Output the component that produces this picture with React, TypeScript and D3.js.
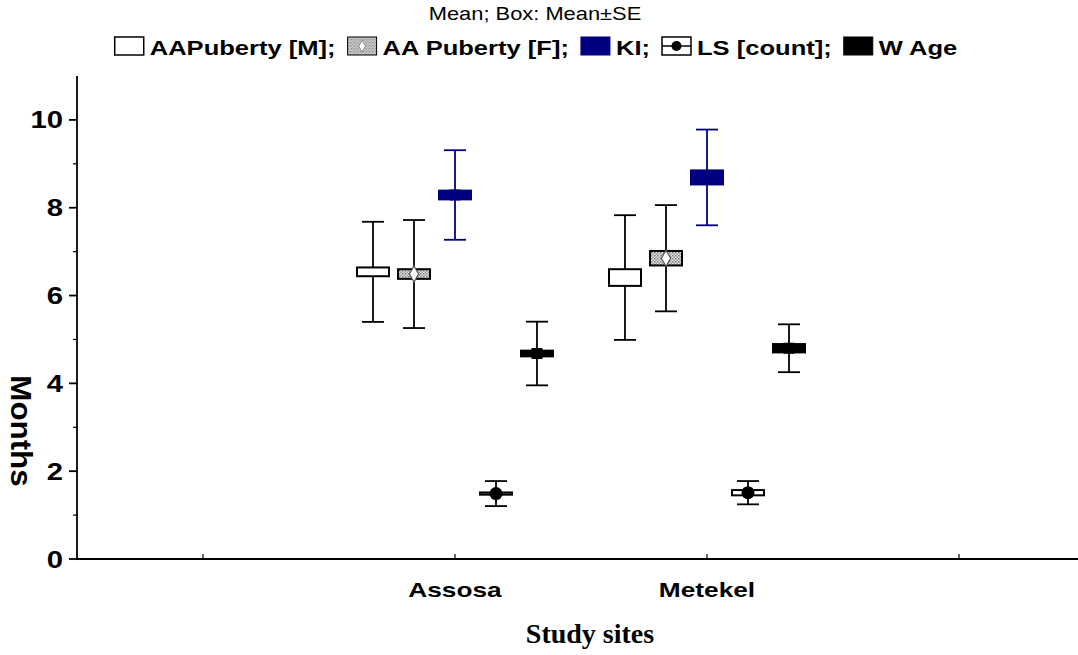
import * as d3 from "d3";
import { useEffect, useRef } from "react";

// study sites on the x axis
const sites = ["Assosa", "Metekel"];
const seriesNames = ["AAPuberty [M]", "AA Puberty [F]", "KI", "LS [count]", "W  Age"];

// one row per series, values for [Assosa, Metekel]
const means = [
  [6.54, 6.41],
  [6.49, 6.85],
  [8.29, 8.69],
  [1.49, 1.51],
  [4.68, 4.8],
];
const stdErrors = [
  [0.1, 0.19],
  [0.11, 0.165],
  [0.1, 0.16],
  [0.025, 0.06],
  [0.065, 0.095],
];
const whiskers = [
  [1.14, 1.42],
  [1.23, 1.21],
  [1.02, 1.09],
  [0.285, 0.265],
  [0.725, 0.545],
];
const yTicks = [0, 2, 4, 6, 8, 10];
const yMinorTicks = [1, 3, 5, 7, 9];

const NAVY = "#000080";
const styles = [
  { fill: "#fff", stroke: "#000", marker: "none" },
  { fill: "url(#hatch)", stroke: "#000", marker: "diamond" },
  { fill: NAVY, stroke: NAVY, marker: "square" },
  { fill: "#fff", stroke: "#000", marker: "circle" },
  { fill: "#000", stroke: "#000", marker: "square" },
];

const SANS = "'Liberation Sans', Arial, sans-serif";

export default function App() {
  const ref = useRef<SVGSVGElement | null>(null);

  useEffect(() => {
    const width = 1078, height = 655;
    const svg = d3.select(ref.current);
    svg.selectAll("*").remove();
    svg.attr("width", width).attr("height", height);

    const defs = svg.append("defs");
    const pat = defs.append("pattern").attr("id", "hatch")
      .attr("width", 3).attr("height", 3).attr("patternUnits", "userSpaceOnUse");
    pat.append("rect").attr("width", 3).attr("height", 3).attr("fill", "#e6e6e6");
    pat.append("rect").attr("width", 1.5).attr("height", 1.5).attr("fill", "#777");
    pat.append("rect").attr("x", 1.5).attr("y", 1.5).attr("width", 1.5).attr("height", 1.5).attr("fill", "#999");

    // helper: horizontally stretched text like the original export
    const text = (g: any, x: number, y: number, s: string, size: number, opts: any = {}) => {
      const sx = opts.sx ?? 1;
      const rot = opts.rotate ? ` rotate(${opts.rotate})` : "";
      return g.append("text")
        .attr("transform", `translate(${x},${y})${rot} scale(${sx},1)`)
        .attr("text-anchor", opts.anchor ?? "start")
        .attr("font-family", opts.family ?? SANS)
        .attr("font-weight", opts.weight ?? "bold")
        .attr("font-size", size)
        .attr("fill", "#000")
        .text(s);
    };

    const slots = ["_l", ...sites, "_r"];
    const x = d3.scaleBand().domain(slots).range([77, 1085]);
    const offset = d3.scalePoint().domain(seriesNames).range([-82, 82]);
    const y = d3.scaleLinear().domain([0, 11]).range([559, 76]);

    // axes
    const axis = svg.append("g").attr("stroke", "#000").attr("stroke-width", 1.8);
    axis.append("line").attr("x1", 77).attr("x2", 77).attr("y1", y(11)).attr("y2", y(0));
    axis.append("line").attr("x1", 76).attr("x2", width).attr("y1", y(0)).attr("y2", y(0));
    yTicks.forEach(v => {
      axis.append("line").attr("x1", 69).attr("x2", 77).attr("y1", y(v)).attr("y2", y(v));
      text(svg, 63, y(v) + 8.5, String(v), 24, { anchor: "end", sx: 1.22 });
    });
    yMinorTicks.forEach(v => {
      axis.append("line").attr("x1", 73).attr("x2", 77).attr("y1", y(v)).attr("y2", y(v)).attr("stroke-width", 1.2);
    });
    slots.forEach(s => {
      const cx = (x(s) ?? 0) + x.bandwidth() / 2;
      axis.append("line").attr("x1", cx).attr("x2", cx).attr("y1", y(0)).attr("y2", y(0) - 5).attr("stroke-width", 1.2);
    });
    sites.forEach(s => {
      text(svg, (x(s) ?? 0) + x.bandwidth() / 2, 597, s, 21, { anchor: "middle", sx: 1.25 });
    });

    text(svg, 590, 643, "Study sites", 28, { anchor: "middle", family: "'Liberation Serif', 'Times New Roman', serif" });
    text(svg, 11, 431, "Months", 29, { anchor: "middle", rotate: 90, sx: 1.08 });

    // boxes and whiskers
    const marks = svg.append("g");
    seriesNames.forEach((name, i) => {
      const st = styles[i];
      sites.forEach((site, j) => {
        const cx = (x(site) ?? 0) + x.bandwidth() / 2 + (offset(name) ?? 0);
        const m = means[i][j], se = stdErrors[i][j], w = whiskers[i][j];
        const g = marks.append("g");
        g.append("line").attr("x1", cx).attr("x2", cx).attr("y1", y(m + w)).attr("y2", y(m - w))
          .attr("stroke", st.stroke).attr("stroke-width", 1.8);
        [m + w, m - w].forEach(v => {
          g.append("line").attr("x1", cx - 11).attr("x2", cx + 11).attr("y1", y(v)).attr("y2", y(v))
            .attr("stroke", st.stroke).attr("stroke-width", 1.8);
        });
        g.append("rect").attr("x", cx - 16).attr("width", 32)
          .attr("y", y(m + se)).attr("height", y(m - se) - y(m + se))
          .attr("fill", st.fill).attr("stroke", st.stroke).attr("stroke-width", 2);
        if (st.marker === "square") {
          g.append("rect").attr("x", cx - 5.5).attr("y", y(m) - 5.5).attr("width", 11).attr("height", 11).attr("fill", st.fill);
        } else if (st.marker === "diamond") {
          g.append("path").attr("d", d3.symbol(d3.symbolDiamond, 75)()).attr("transform", `translate(${cx},${y(m)})`)
            .attr("fill", "#fff").attr("stroke", "#555").attr("stroke-width", 1.2);
        } else if (st.marker === "circle") {
          g.append("circle").attr("cx", cx).attr("cy", y(m)).attr("r", 6.5).attr("fill", "#000");
        }
      });
    });

    // title and legend
    text(svg, 535, 20, "Mean; Box: Mean±SE", 17.5, { anchor: "middle", weight: "normal", sx: 1.25 });
    const legend = svg.append("g");
    let cursor = 0;
    seriesNames.forEach((name, i) => {
      const st = styles[i];
      const g = legend.append("g").attr("transform", `translate(${cursor},0)`);
      g.append("rect").attr("x", 0).attr("y", 37).attr("width", 29).attr("height", 18)
        .attr("fill", st.fill).attr("stroke", st.stroke).attr("stroke-width", i === 3 || i === 0 ? 1.5 : 1);
      if (st.marker === "diamond") {
        g.append("path").attr("d", d3.symbol(d3.symbolDiamond, 40)()).attr("transform", "translate(14.5,46)")
          .attr("fill", "#fff").attr("stroke", "#888");
      } else if (st.marker === "circle") {
        g.append("line").attr("x1", 0).attr("x2", 29).attr("y1", 46).attr("y2", 46).attr("stroke", "#000").attr("stroke-width", 1.5);
        g.append("circle").attr("cx", 14.5).attr("cy", 46).attr("r", 5).attr("fill", "#000");
      }
      const t = text(g, 35, 55, name + (i < seriesNames.length - 1 ? ";" : ""), 19.5, { sx: 1.31 });
      const tw = (t.node() as SVGTextElement).getComputedTextLength() * 1.31;
      cursor += 35 + tw + 12;
    });
    const total = cursor - 12;
    legend.attr("transform", `translate(${536 - total / 2},0)`);
  }, []);

  return (
    <svg ref={ref} style={{ position: "fixed", left: 0, top: 0, background: "#fff" }} />
  );
}
